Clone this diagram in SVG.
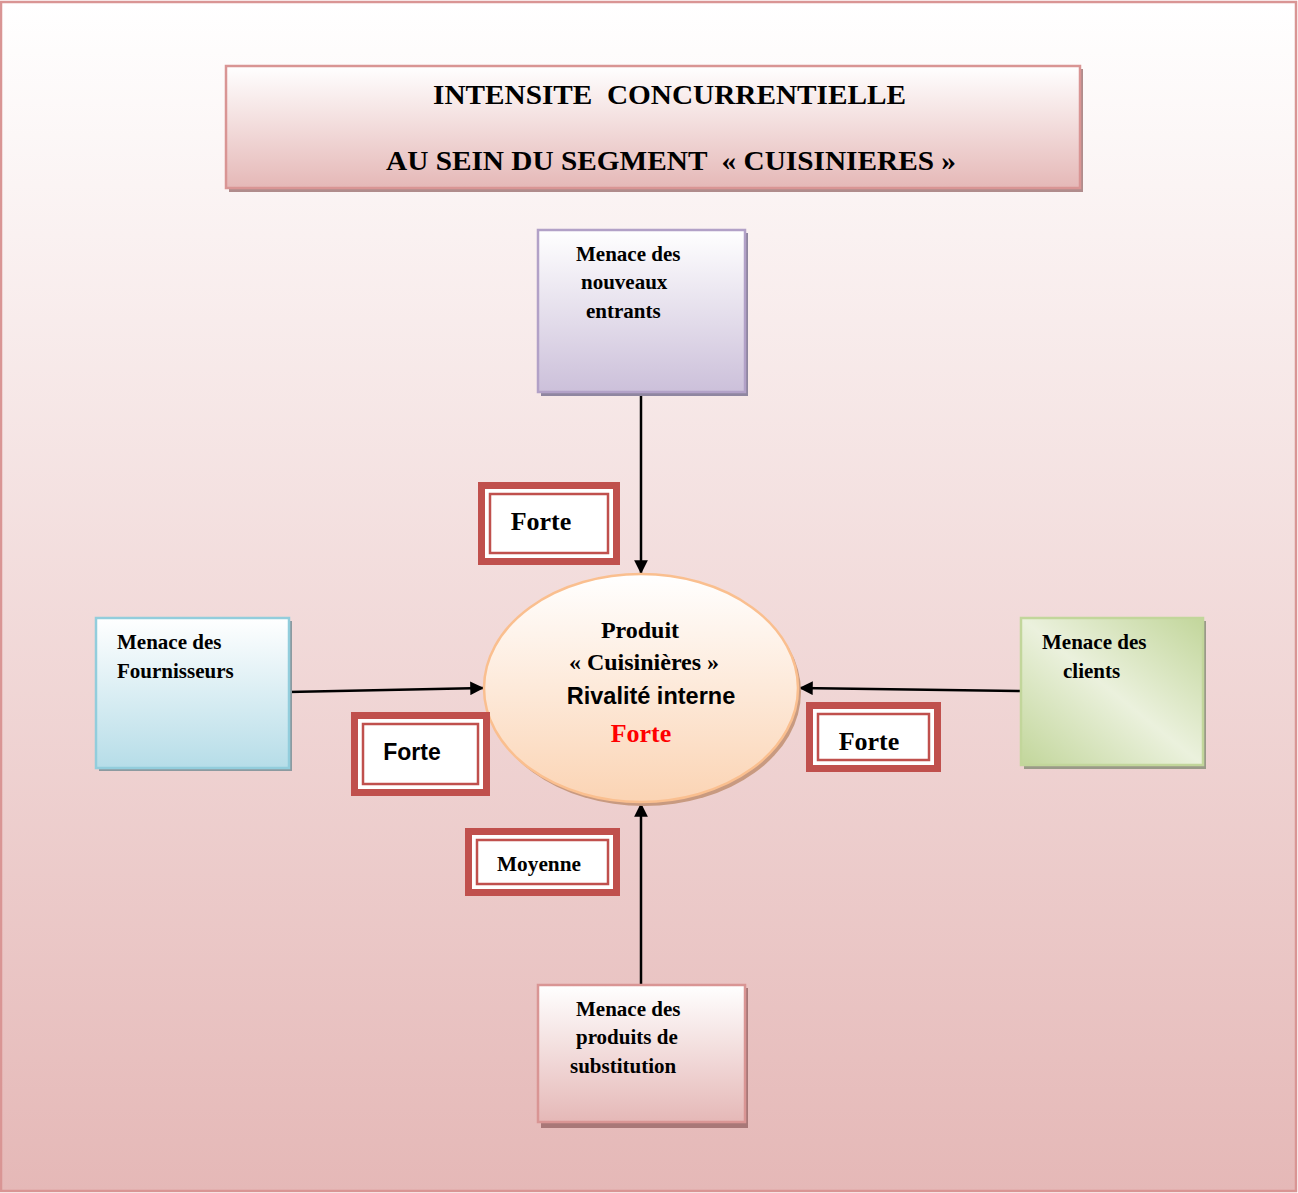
<svg xmlns="http://www.w3.org/2000/svg" width="1298" height="1193" viewBox="0 0 1298 1193">
<defs>
<linearGradient id="bg" x1="0" y1="0" x2="0" y2="1"><stop offset="0" stop-color="#ffffff"/><stop offset="1" stop-color="#e5b8b7"/></linearGradient>
<linearGradient id="pink" x1="0" y1="0" x2="0" y2="1"><stop offset="0" stop-color="#ffffff"/><stop offset="1" stop-color="#e5b8b7"/></linearGradient>
<linearGradient id="purple" x1="0" y1="0" x2="0" y2="1"><stop offset="0" stop-color="#ffffff"/><stop offset="1" stop-color="#ccc0da"/></linearGradient>
<linearGradient id="blue" x1="0" y1="0" x2="0" y2="1"><stop offset="0" stop-color="#ffffff"/><stop offset="1" stop-color="#b6dde8"/></linearGradient>
<linearGradient id="green" x1="1" y1="0" x2="0" y2="1"><stop offset="0" stop-color="#c2d69b"/><stop offset="0.5" stop-color="#ebf1dd"/><stop offset="1" stop-color="#c2d69b"/></linearGradient>
<linearGradient id="peach" x1="0" y1="0" x2="0" y2="1"><stop offset="0" stop-color="#ffffff"/><stop offset="1" stop-color="#fbd4b4"/></linearGradient>
<marker id="arr" viewBox="0 0 10 10" refX="10" refY="5" markerWidth="5.5" markerHeight="5.5" orient="auto" markerUnits="strokeWidth"><path d="M0,0 L10,5 L0,10 z" fill="#000"/></marker>
</defs>
<style>
.serif{font-family:"Liberation Serif","Times New Roman",serif;font-weight:bold;fill:#000}
.sans{font-family:"Liberation Sans",Arial,sans-serif;font-weight:bold;fill:#000}
.conn{stroke:#000;stroke-width:2.5;fill:none;marker-end:url(#arr)}
.outer{fill:#c0504d}
.inner{fill:#fff;stroke:#c0504d;stroke-width:2.5}
</style>
<rect x="1" y="2" width="1295" height="1189" fill="url(#bg)" stroke="#d99594" stroke-width="2.5"/>

<g id="title">
<rect x="229" y="69" width="854" height="123" fill="#b08c8c"/>
<rect x="226" y="66" width="854" height="122" fill="url(#pink)" stroke="#d99594" stroke-width="2.5"/>
<text class="serif" x="433" y="104" font-size="28" textLength="473" lengthAdjust="spacingAndGlyphs" xml:space="preserve">INTENSITE  CONCURRENTIELLE</text>
<text class="serif" x="386" y="170" font-size="28" textLength="570" lengthAdjust="spacingAndGlyphs" xml:space="preserve">AU SEIN DU SEGMENT  « CUISINIERES »</text>
</g>

<g id="connectors">
<line class="conn" x1="641" y1="392" x2="641" y2="574"/>
<line class="conn" x1="288" y1="692" x2="484" y2="688"/>
<line class="conn" x1="1022" y1="691" x2="799" y2="688"/>
<line class="conn" x1="641" y1="985" x2="641" y2="803"/>
</g>

<g id="nouveaux">
<rect x="541" y="233" width="207" height="163" fill="#8f86a0"/>
<rect x="538" y="230" width="207" height="162" fill="url(#purple)" stroke="#b2a1c7" stroke-width="2.5"/>
<text class="serif" font-size="21"><tspan x="576" y="261">Menace des</tspan><tspan x="581" y="289">nouveaux</tspan><tspan x="586" y="318">entrants</tspan></text>
</g>

<g id="fournisseurs">
<rect x="99" y="621" width="193" height="150" fill="#8c9aa0"/>
<rect x="96" y="618" width="193" height="150" fill="url(#blue)" stroke="#92cddc" stroke-width="2.5"/>
<text class="serif" font-size="21"><tspan x="117" y="649">Menace des</tspan><tspan x="117" y="678">Fournisseurs</tspan></text>
</g>

<g id="clients">
<rect x="1024" y="621" width="182" height="148" fill="#9a9a88"/>
<rect x="1021" y="618" width="182" height="147" fill="url(#green)" stroke="#c2d69b" stroke-width="2.5"/>
<text class="serif" font-size="21"><tspan x="1042" y="649">Menace des</tspan><tspan x="1063" y="678">clients</tspan></text>
</g>

<g id="substitution">
<rect x="541" y="988" width="207" height="140" fill="#a87878"/>
<rect x="538" y="985" width="207" height="137" fill="url(#pink)" stroke="#d99594" stroke-width="2.5"/>
<text class="serif" font-size="21"><tspan x="576" y="1016">Menace des</tspan><tspan x="576" y="1044">produits de</tspan><tspan x="570" y="1073">substitution</tspan></text>
</g>

<g id="produit">
<ellipse cx="644" cy="692" rx="157" ry="114" fill="#c89a80"/>
<ellipse cx="641" cy="688" rx="157" ry="114" fill="url(#peach)" stroke="#fabf8f" stroke-width="2.5"/>
<text class="serif" x="640" y="638" font-size="24" text-anchor="middle">Produit</text>
<text class="serif" x="644" y="670" font-size="24" text-anchor="middle">« Cuisinières »</text>
<text class="sans" x="651" y="704" font-size="23.5" text-anchor="middle">Rivalité interne</text>
<text class="serif" x="641" y="742" font-size="26" text-anchor="middle" style="fill:#ff0000">Forte</text>
</g>

<g id="label-top">
<rect class="outer" x="478" y="482" width="142" height="83"/>
<rect x="485" y="489" width="128" height="69" fill="#fff"/>
<rect class="inner" x="490" y="494" width="118" height="59"/>
<text class="serif" x="541" y="530" font-size="26" text-anchor="middle">Forte</text>
</g>

<g id="label-left">
<rect class="outer" x="351" y="712" width="139" height="84"/>
<rect x="358" y="719" width="125" height="70" fill="#fff"/>
<rect class="inner" x="363" y="724" width="115" height="60"/>
<text class="sans" x="412" y="760" font-size="23" text-anchor="middle">Forte</text>
</g>

<g id="label-right">
<rect class="outer" x="806" y="702" width="135" height="70"/>
<rect x="813" y="709" width="121" height="56" fill="#fff"/>
<rect class="inner" x="818" y="714" width="111" height="46"/>
<text class="serif" x="869" y="750" font-size="26" text-anchor="middle">Forte</text>
</g>

<g id="label-bottom">
<rect class="outer" x="465" y="828" width="155" height="68"/>
<rect x="472" y="835" width="141" height="54" fill="#fff"/>
<rect class="inner" x="477" y="840" width="131" height="44"/>
<text class="serif" x="539" y="871" font-size="21.3" text-anchor="middle">Moyenne</text>
</g>
</svg>
